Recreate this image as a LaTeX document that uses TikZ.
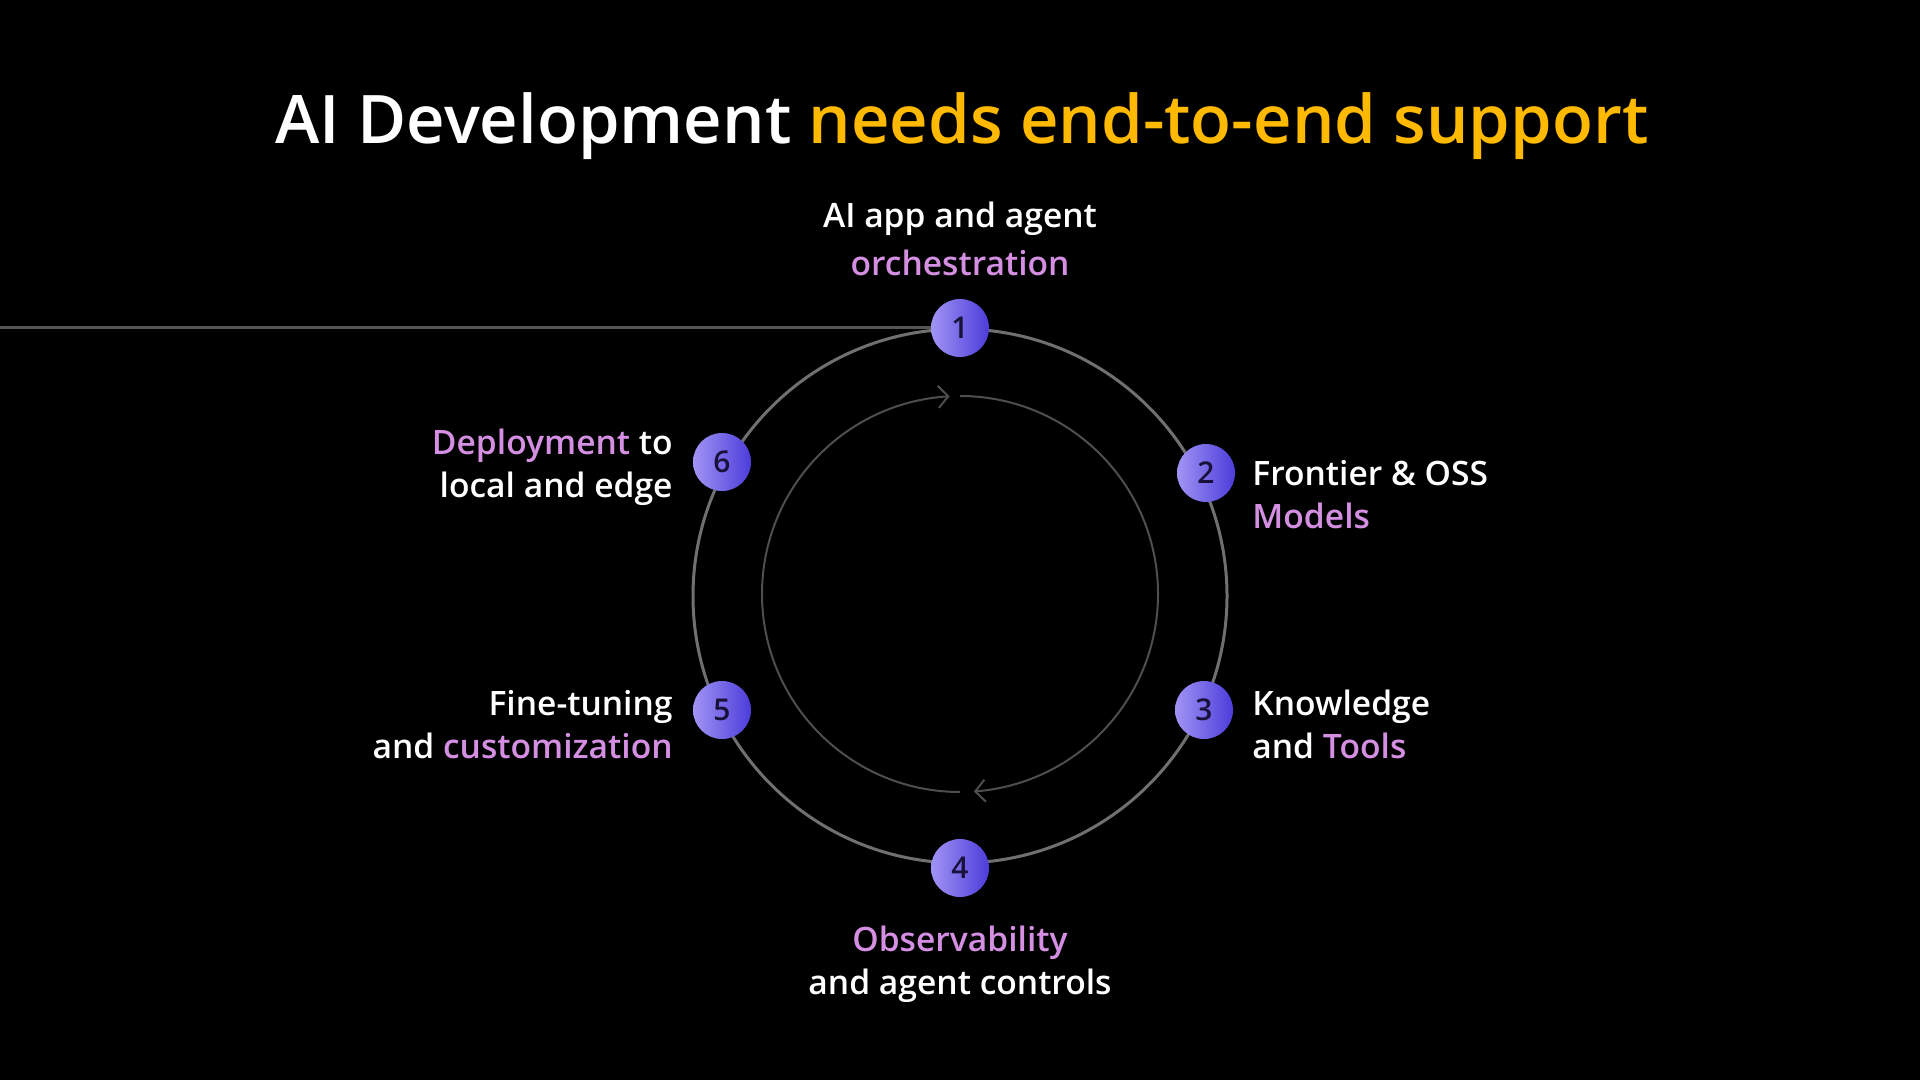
\documentclass[tikz,border=0pt]{standalone}
\usepackage{fontspec}
\setmainfont{Open Sans}[UprightFont={* Semibold}]
\usetikzlibrary{arrows.meta,bending}
\definecolor{gold}{RGB}{255,185,0}
\definecolor{lilac}{RGB}{212,142,226}
\definecolor{numink}{RGB}{24,18,58}
\definecolor{ringgray}{RGB}{112,112,112}
\definecolor{innergray}{RGB}{78,78,78}
\definecolor{linegray}{RGB}{85,85,85}
\definecolor{nodeleft}{RGB}{160,148,244}
\definecolor{noderight}{RGB}{76,60,218}
\tikzset{
  stepnum/.style={circle, minimum size=29pt, inner sep=0pt,
    left color=nodeleft, right color=noderight,
    text=numink, font=\fontsize{15}{17}\selectfont},
  lbl/.style={text=white, inner sep=0pt, font=\fontsize{16.8}{21.5}\selectfont},
  ttl/.style={inner sep=0pt, font=\fontsize{33.5}{40}\selectfont}
}
\begin{document}
\begin{tikzpicture}[x=0.5pt,y=-0.5pt]
\useasboundingbox (0,0) rectangle (1920,1080);
\fill[black] (0,0) rectangle (1920,1080);

% title
\node[ttl, anchor=base] (title) at (962,144) {\textcolor{white}{AI Development} \textcolor{gold}{needs end-to-end support}};

% rings
\coordinate (ctr) at (960,596);
\draw[ringgray, line width=1.5pt] (ctr) circle[radius=267];
\coordinate (in0) at (960,594);
\draw[innergray, line width=1pt, -{Straight Barb[length=5pt,width=11pt,flex]}]
  ([shift={(-90:198)}]in0) arc[start angle=-90, end angle=86, radius=198];
\draw[innergray, line width=1pt, -{Straight Barb[length=5pt,width=11pt,flex]}]
  ([shift={(90:198)}]in0) arc[start angle=90, end angle=267, radius=198];

% nodes
\node[stepnum] (n1) at (960,328) {1};
\node[stepnum] (n2) at (1206,473) {2};
\node[stepnum] (n3) at (1204,710) {3};
\node[stepnum] (n4) at (960,868) {4};
\node[stepnum] (n5) at (722,710) {5};
\node[stepnum] (n6) at (722,462) {6};

% left line
\coordinate (lstart) at (0,328);
\draw[linegray, line width=1.5pt] (lstart) -- (n1.west);

% labels (anchor base = baseline of last line)
\node[lbl, align=center, anchor=base] (l1) at (960,276) {AI app and agent\\[2.5pt]\textcolor{lilac}{orchestration}};
\node[lbl, align=left, anchor=base west] (l2) at (1252,528) {Frontier \& OSS\\\textcolor{lilac}{Models}};
\node[lbl, align=left, anchor=base west] (l3) at (1252,758) {Knowledge\\and \textcolor{lilac}{Tools}};
\node[lbl, align=center, anchor=base] (l4) at (960,994) {\textcolor{lilac}{Observability}\\and agent controls};
\node[lbl, align=right, anchor=base east] (l5) at (673,758) {Fine-tuning\\and \textcolor{lilac}{customization}};
\node[lbl, align=right, anchor=base east] (l6) at (673,497) {\textcolor{lilac}{Deployment} to\\local and edge};
\end{tikzpicture}
\end{document}
